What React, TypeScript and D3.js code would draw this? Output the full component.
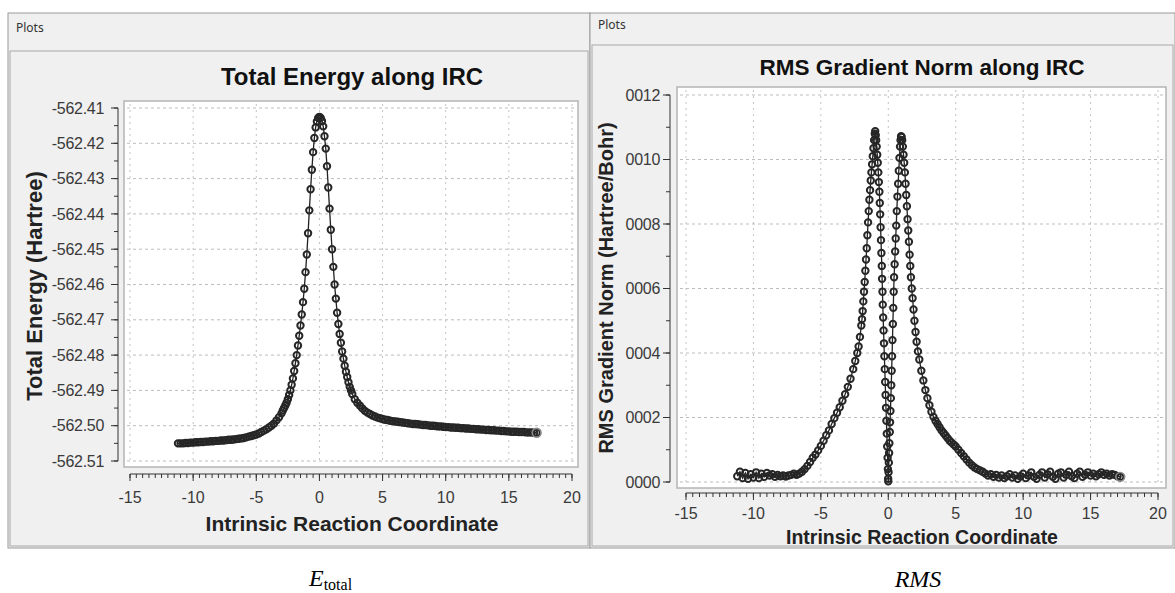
import React from "react"
import * as d3 from "d3"

// IRC energy profile: [reaction coordinate, total energy (Hartree)]
const energyPoints: [number, number][] = [
  [-11.2, -562.505], [-11.0, -562.505], [-10.8, -562.505], [-10.6, -562.5049], [-10.4, -562.5049],
  [-10.2, -562.5048], [-10.0, -562.5048], [-9.8, -562.5047], [-9.6, -562.5047], [-9.4, -562.5046],
  [-9.2, -562.5046], [-9.0, -562.5045], [-8.8, -562.5045], [-8.6, -562.5044], [-8.4, -562.5044],
  [-8.2, -562.5043], [-8.0, -562.5043], [-7.8, -562.5042], [-7.6, -562.5042], [-7.4, -562.5041],
  [-7.2, -562.504], [-7.0, -562.504], [-6.8, -562.5039], [-6.6, -562.5038], [-6.4, -562.5037],
  [-6.2, -562.5036], [-6.0, -562.5035], [-5.8, -562.5033], [-5.6, -562.5031], [-5.4, -562.5029],
  [-5.2, -562.5027], [-5.0, -562.5025], [-4.8, -562.5022], [-4.6, -562.5018], [-4.4, -562.5014],
  [-4.2, -562.501], [-4.0, -562.5005], [-3.8, -562.5], [-3.6, -562.4994], [-3.4, -562.4985],
  [-3.2, -562.4976], [-3.0, -562.4965], [-2.9, -562.4957], [-2.8, -562.495], [-2.7, -562.4943],
  [-2.6, -562.4935], [-2.5, -562.4925], [-2.4, -562.4913], [-2.3, -562.49], [-2.2, -562.4884],
  [-2.1, -562.4866], [-2.0, -562.4845], [-1.9, -562.4823], [-1.8, -562.48], [-1.7, -562.4773],
  [-1.6, -562.4745], [-1.5, -562.4716], [-1.4, -562.4685], [-1.3, -562.465], [-1.2, -562.4612],
  [-1.1, -562.4565], [-1.0, -562.4515], [-0.9, -562.4455], [-0.8, -562.439], [-0.7, -562.433],
  [-0.6, -562.4275], [-0.5, -562.4225], [-0.4, -562.4185], [-0.3, -562.4155], [-0.2, -562.4138],
  [-0.1, -562.4128], [0.0, -562.4125], [0.1, -562.4128], [0.2, -562.4137], [0.3, -562.4152],
  [0.4, -562.418], [0.5, -562.4215], [0.6, -562.4265], [0.7, -562.4325], [0.8, -562.4385],
  [0.9, -562.4445], [1.0, -562.45], [1.1, -562.455], [1.2, -562.46], [1.3, -562.464],
  [1.4, -562.468], [1.5, -562.4712], [1.6, -562.474], [1.7, -562.4765], [1.8, -562.479],
  [1.9, -562.481], [2.0, -562.483], [2.1, -562.4847], [2.2, -562.4862], [2.3, -562.4877],
  [2.4, -562.489], [2.5, -562.49], [2.6, -562.491], [2.8, -562.4925], [3.0, -562.4935],
  [3.2, -562.4943], [3.4, -562.4951], [3.6, -562.4958], [3.8, -562.4963], [4.0, -562.4967],
  [4.2, -562.4971], [4.4, -562.4974], [4.6, -562.4977], [4.8, -562.4979], [5.0, -562.4981],
  [5.2, -562.4983], [5.4, -562.4984], [5.6, -562.4986], [5.8, -562.4987], [6.0, -562.4988],
  [6.2, -562.4989], [6.4, -562.499], [6.6, -562.4991], [6.8, -562.4992], [7.0, -562.4993],
  [7.2, -562.4994], [7.4, -562.4995], [7.6, -562.4995], [7.8, -562.4996], [8.0, -562.4997],
  [8.2, -562.4998], [8.4, -562.4998], [8.6, -562.4999], [8.8, -562.5], [9.0, -562.5],
  [9.2, -562.5001], [9.4, -562.5002], [9.6, -562.5002], [9.8, -562.5003], [10.0, -562.5004],
  [10.2, -562.5004], [10.4, -562.5005], [10.6, -562.5005], [10.8, -562.5006], [11.0, -562.5006],
  [11.2, -562.5007], [11.4, -562.5007], [11.6, -562.5008], [11.8, -562.5008], [12.0, -562.5009],
  [12.2, -562.5009], [12.4, -562.501], [12.6, -562.501], [12.8, -562.5011], [13.0, -562.5011],
  [13.2, -562.5012], [13.4, -562.5012], [13.6, -562.5013], [13.8, -562.5013], [14.0, -562.5014],
  [14.2, -562.5014], [14.4, -562.5015], [14.6, -562.5015], [14.8, -562.5016], [15.0, -562.5016],
  [15.2, -562.5017], [15.4, -562.5017], [15.6, -562.5017], [15.8, -562.5018], [16.0, -562.5018],
  [16.2, -562.5018], [16.4, -562.5019], [16.6, -562.5019], [16.8, -562.5019], [17.0, -562.502],
  [17.2, -562.502],
]

// RMS gradient norm: [reaction coordinate, Hartree/Bohr]
const rmsPoints: [number, number][] = [
  [-11.2, 0.000018], [-11.0, 0.000032], [-10.8, 0.000012], [-10.6, 0.000028], [-10.4, 0.00001],
  [-10.2, 0.000024], [-10.0, 0.000014], [-9.8, 0.00003], [-9.6, 0.000012], [-9.4, 0.000026],
  [-9.2, 0.000016], [-9.0, 0.000028], [-8.8, 0.00002], [-8.6, 0.000024], [-8.4, 0.000016],
  [-8.2, 0.000022], [-8.0, 0.000018], [-7.8, 0.00002], [-7.6, 0.000017], [-7.4, 0.00002],
  [-7.2, 0.000022], [-7.0, 0.000026], [-6.8, 0.000022], [-6.6, 0.000026], [-6.4, 0.000032],
  [-6.2, 0.00004], [-6.0, 0.00005], [-5.8, 0.000062], [-5.6, 0.000075], [-5.4, 0.000085],
  [-5.2, 0.000098], [-5.0, 0.000112], [-4.8, 0.000128], [-4.6, 0.000145], [-4.4, 0.00016],
  [-4.2, 0.00018], [-4.0, 0.000198], [-3.8, 0.000215], [-3.6, 0.000232], [-3.4, 0.000252],
  [-3.2, 0.000272], [-3.0, 0.000295], [-2.8, 0.00032], [-2.6, 0.00035], [-2.45, 0.000375],
  [-2.3, 0.0004], [-2.2, 0.00042], [-2.1, 0.00045], [-2.0, 0.000485], [-1.95, 0.000505],
  [-1.9, 0.00053], [-1.85, 0.00056], [-1.8, 0.00059], [-1.75, 0.00062], [-1.7, 0.000655],
  [-1.65, 0.00069], [-1.6, 0.000725], [-1.55, 0.000765], [-1.5, 0.000805], [-1.45, 0.00084],
  [-1.4, 0.000875], [-1.35, 0.000905], [-1.3, 0.000935], [-1.25, 0.00096], [-1.2, 0.000985],
  [-1.15, 0.00101], [-1.1, 0.001035], [-1.05, 0.00106], [-1.0, 0.00108], [-0.97, 0.001088],
  [-0.93, 0.001075], [-0.9, 0.00106], [-0.86, 0.00104], [-0.82, 0.001015], [-0.78, 0.00099],
  [-0.74, 0.00096], [-0.7, 0.00093], [-0.66, 0.0009], [-0.63, 0.000865], [-0.6, 0.00083],
  [-0.57, 0.00079], [-0.54, 0.00075], [-0.51, 0.00071], [-0.48, 0.00067], [-0.46, 0.00063],
  [-0.43, 0.00059], [-0.41, 0.00055], [-0.38, 0.00051], [-0.35, 0.00047], [-0.32, 0.00043],
  [-0.29, 0.00039], [-0.26, 0.00035], [-0.23, 0.00031], [-0.2, 0.00027], [-0.17, 0.00023],
  [-0.14, 0.00019], [-0.11, 0.00015], [-0.08, 0.00011], [-0.05, 0.000075], [-0.03, 0.00004],
  [-0.01, 0.00001], [0.0, 0.000002], [0.02, 0.00003], [0.04, 0.00006], [0.06, 0.00009],
  [0.08, 0.00012], [0.11, 0.000155], [0.13, 0.000185], [0.16, 0.00022], [0.19, 0.00026],
  [0.22, 0.0003], [0.25, 0.000345], [0.28, 0.00039], [0.31, 0.00044], [0.34, 0.00049],
  [0.37, 0.00054], [0.4, 0.00059], [0.43, 0.000635], [0.47, 0.000675], [0.51, 0.000715],
  [0.55, 0.000755], [0.59, 0.000795], [0.63, 0.00084], [0.68, 0.000885], [0.73, 0.000925],
  [0.78, 0.000965], [0.83, 0.001005], [0.87, 0.00104], [0.91, 0.00106], [0.95, 0.001072],
  [0.99, 0.00107], [1.03, 0.00106], [1.08, 0.00104], [1.13, 0.001015], [1.18, 0.00099],
  [1.23, 0.00096], [1.28, 0.000925], [1.33, 0.00089], [1.38, 0.000855], [1.43, 0.000815],
  [1.48, 0.00078], [1.53, 0.000745], [1.58, 0.000705], [1.63, 0.00067], [1.68, 0.000635],
  [1.74, 0.0006], [1.8, 0.00057], [1.87, 0.000535], [1.94, 0.0005], [2.02, 0.000465],
  [2.1, 0.000435], [2.2, 0.000405], [2.3, 0.00038], [2.45, 0.000345], [2.6, 0.000315],
  [2.75, 0.000285], [2.9, 0.00026], [3.05, 0.000238], [3.2, 0.000218], [3.35, 0.000202],
  [3.5, 0.00019], [3.65, 0.00018], [3.8, 0.00017], [3.95, 0.00016], [4.1, 0.000152],
  [4.25, 0.000144], [4.4, 0.000136], [4.55, 0.000128], [4.7, 0.000122], [4.85, 0.000116],
  [5.0, 0.00011], [5.2, 0.0001], [5.4, 0.00009], [5.6, 0.00008], [5.8, 0.00007],
  [6.0, 0.00006], [6.2, 0.000052], [6.4, 0.000045], [6.6, 0.00004], [6.8, 0.000036],
  [7.0, 0.000032], [7.2, 0.000026], [7.4, 0.00002], [7.6, 0.000024], [7.8, 0.000016],
  [8.0, 0.000022], [8.2, 0.000014], [8.4, 0.00002], [8.6, 0.000012], [8.8, 0.000018],
  [9.0, 0.000024], [9.2, 0.000014], [9.4, 0.00002], [9.6, 0.00001], [9.8, 0.000018],
  [10.0, 0.000026], [10.2, 0.000012], [10.4, 0.00002], [10.6, 0.00003], [10.8, 0.000016],
  [11.0, 0.00001], [11.2, 0.000022], [11.4, 0.00003], [11.6, 0.000014], [11.8, 0.000024],
  [12.0, 0.000032], [12.2, 0.000016], [12.4, 0.00001], [12.6, 0.000026], [12.8, 0.00003],
  [13.0, 0.000014], [13.2, 0.000022], [13.4, 0.000032], [13.6, 0.000018], [13.8, 0.000012],
  [14.0, 0.000026], [14.2, 0.000032], [14.4, 0.000016], [14.6, 0.000022], [14.8, 0.00003],
  [15.0, 0.00002], [15.2, 0.000026], [15.4, 0.000018], [15.6, 0.000024], [15.8, 0.00003],
  [16.0, 0.000022], [16.2, 0.000026], [16.4, 0.00002], [16.6, 0.000024], [16.8, 0.000022],
  [17.0, 0.000018], [17.2, 0.000016],
]

const xTicks = [-15, -10, -5, 0, 5, 10, 15, 20]
const xTickLabels = ["-15", "-10", "-5", "0", "5", "10", "15", "20"]
const energyTicks = [-562.41, -562.42, -562.43, -562.44, -562.45, -562.46, -562.47, -562.48, -562.49, -562.5, -562.51]
const energyTickLabels = ["-562.41", "-562.42", "-562.43", "-562.44", "-562.45", "-562.46", "-562.47", "-562.48", "-562.49", "-562.50", "-562.51"]
const rmsTicks = [0.0012, 0.001, 0.0008, 0.0006, 0.0004, 0.0002, 0]
const rmsTickLabels = ["0012", "0010", "0008", "0006", "0004", "0002", "0000"]

const FONT = "'Liberation Sans', Arial, sans-serif"

type Cfg = {
  x0: number, x1: number, sepY: number, plotsY: number,
  box: { l: number, r: number, t: number, b: number },
  xRange: [number, number], yRange: [number, number],
  yAxisX: number, xAxisY: number, labelY: number,
  titleX: number, titleY: number, titleSize: number,
  xTitleY: number, xTitleSize: number,
  yTitleX: number, yTitleY: number, yTitleSize: number,
  yLabelX: number, yMinorStep: number,
}

function IrcPlot(props: {
  cfg: Cfg, points: [number, number][], yTicks: number[], yLabels: string[],
  title: string, yTitle: string,
}) {
  const { cfg, points, yTicks, yLabels } = props
  const x = d3.scaleLinear().domain([-15, 20]).range(cfg.xRange)
  const yDom = d3.extent(yTicks) as [number, number]
  const y = d3.scaleLinear().domain(yDom).range(cfg.yRange)

  const xMinor = d3.range(-15, 20.001, 0.5)
  const yMinor = d3.range(yDom[0], yDom[1] + cfg.yMinorStep / 2, cfg.yMinorStep)

  const line = d3.line<[number, number]>().x(d => x(d[0])).y(d => y(d[1]))
  const last = points[points.length - 1]

  return (
    <g>
      <rect x={cfg.x0} y={13} width={cfg.x1 - cfg.x0} height={535} fill="#f0f0f0" stroke="#9a9a9a" />
      <text x={cfg.x0 + 8} y={cfg.plotsY} fontFamily="'Noto Sans', sans-serif" fontSize={12} fill="#333">Plots</text>
      <rect x={cfg.x0 + 2} y={cfg.sepY} width={cfg.x1 - cfg.x0 - 4} height={546 - cfg.sepY} fill="#f0f0f0" stroke="#a8a8a8" />

      <text x={cfg.titleX} y={cfg.titleY} textAnchor="middle" fontFamily={FONT} fontWeight="bold" fontSize={cfg.titleSize} fill="#111">{props.title}</text>

      <rect x={cfg.box.l} y={cfg.box.t} width={cfg.box.r - cfg.box.l} height={cfg.box.b - cfg.box.t} fill="#fff" stroke="#b4b4b4" strokeWidth={1.5} />

      {/* grid */}
      {yTicks.map(t => (
        <line key={"gy" + t} x1={cfg.box.l + 3} x2={cfg.box.r - 3} y1={y(t)} y2={y(t)} stroke="#bdbdbd" strokeDasharray="3,3" />
      ))}
      {xTicks.map(t => (
        <line key={"gx" + t} x1={x(t)} x2={x(t)} y1={cfg.box.t + 3} y2={cfg.box.b - 3} stroke="#c4c4c4" strokeDasharray="2,4" />
      ))}

      {/* y axis */}
      <line x1={cfg.yAxisX} x2={cfg.yAxisX} y1={y(yDom[1])} y2={y(yDom[0])} stroke="#333" />
      {yMinor.map((t, i) => (
        <line key={"ym" + i} x1={cfg.yAxisX - 4} x2={cfg.yAxisX} y1={y(t)} y2={y(t)} stroke="#333" />
      ))}
      {yTicks.map((t, i) => (
        <g key={"yt" + t}>
          <line x1={cfg.yAxisX - 7} x2={cfg.yAxisX} y1={y(t)} y2={y(t)} stroke="#333" />
          <text x={cfg.yLabelX} y={y(t)} dy="0.35em" textAnchor="end" fontFamily={FONT} fontSize={16} fill="#3a3a3a" letterSpacing={-0.3}>{yLabels[i]}</text>
        </g>
      ))}
      <text transform={`translate(${cfg.yTitleX},${cfg.yTitleY}) rotate(-90)`} textAnchor="middle" dy="0.35em" fontFamily={FONT} fontWeight="bold" fontSize={cfg.yTitleSize} fill="#222">{props.yTitle}</text>

      {/* x axis */}
      <line x1={x(-15)} x2={x(20)} y1={cfg.xAxisY} y2={cfg.xAxisY} stroke="#333" />
      {xMinor.map((t, i) => (
        <line key={"xm" + i} x1={x(t)} x2={x(t)} y1={cfg.xAxisY} y2={cfg.xAxisY + 4} stroke="#333" />
      ))}
      {xTicks.map((t, i) => (
        <g key={"xt" + t}>
          <line x1={x(t)} x2={x(t)} y1={cfg.xAxisY} y2={cfg.xAxisY + 7} stroke="#333" />
          <text x={x(t)} y={cfg.labelY} textAnchor="middle" fontFamily={FONT} fontSize={16} fill="#3a3a3a">{xTickLabels[i]}</text>
        </g>
      ))}
      <text x={cfg.titleX} y={cfg.xTitleY} textAnchor="middle" fontFamily={FONT} fontWeight="bold" fontSize={cfg.xTitleSize} fill="#222">Intrinsic Reaction Coordinate</text>

      {/* series */}
      <path d={line(points) || ""} fill="none" stroke="#222" strokeWidth={1.3} />
      {points.map((p, i) => (
        <circle key={"p" + i} cx={x(p[0])} cy={y(p[1])} r={3.2} fill="none" stroke="#262626" strokeWidth={2} />
      ))}
      <circle cx={x(last[0])} cy={y(last[1])} r={4.4} fill="none" stroke="#8a8a8a" strokeWidth={1.6} />
    </g>
  )
}

const leftCfg: Cfg = {
  x0: 8, x1: 590, sepY: 51, plotsY: 32,
  box: { l: 124, r: 578, t: 101, b: 467 },
  xRange: [130, 572], yRange: [461, 108],
  yAxisX: 118, xAxisY: 474, labelY: 503,
  titleX: 352, titleY: 85, titleSize: 24,
  xTitleY: 531, xTitleSize: 21,
  yTitleX: 34, yTitleY: 286, yTitleSize: 22,
  yLabelX: 104, yMinorStep: 0.005,
}

const rightCfg: Cfg = {
  x0: 590, x1: 1175, sepY: 45, plotsY: 29,
  box: { l: 677, r: 1166, t: 87, b: 488 },
  xRange: [686, 1158], yRange: [482, 95],
  yAxisX: 670, xAxisY: 493, labelY: 519,
  titleX: 922, titleY: 75, titleSize: 22.5,
  xTitleY: 544, xTitleSize: 19.5,
  yTitleX: 606, yTitleY: 288, yTitleSize: 20,
  yLabelX: 660, yMinorStep: 0.0001,
}

export default function App() {
  return (
    <svg width={1175} height={593} style={{ position: "absolute", left: 0, top: 0, background: "#fff" }}>
      <IrcPlot cfg={leftCfg} points={energyPoints} yTicks={energyTicks} yLabels={energyTickLabels}
        title="Total Energy along IRC" yTitle="Total Energy (Hartree)" />
      <IrcPlot cfg={rightCfg} points={rmsPoints} yTicks={rmsTicks} yLabels={rmsTickLabels}
        title="RMS Gradient Norm along IRC" yTitle="RMS Gradient Norm (Hartree/Bohr)" />
      <text x={309} y={586} fontFamily="'Liberation Serif', 'Times New Roman', serif" fontSize={24} fill="#000">
        <tspan fontStyle="italic">E</tspan>
        <tspan fontSize={16} dy={4}>total</tspan>
      </text>
      <text x={918} y={587} textAnchor="middle" fontFamily="'Liberation Serif', 'Times New Roman', serif" fontStyle="italic" fontSize={24} fill="#000">RMS</text>
    </svg>
  )
}
